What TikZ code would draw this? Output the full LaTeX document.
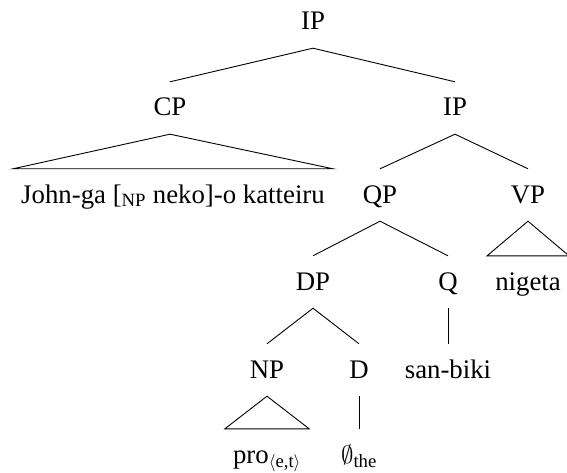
\documentclass[tikz,border=0pt]{standalone}
\usepackage{fontspec}
\setmainfont{Liberation Serif}
\begin{document}
\begin{tikzpicture}[x=1pt,y=-1pt,
  lbl/.style={font=\fontsize{26.8}{31}\selectfont, text height=20pt, text depth=4pt, inner ysep=2pt, inner xsep=8pt, minimum height=52pt},
  edge/.style={line width=0.9pt, line join=miter}]
\useasboundingbox (0,0) rectangle (567,473);
\node[lbl] (ip1) at (313,22) {IP};
\node[lbl] (cp) at (170,108) {CP};
\node[lbl] (ip2) at (455,108) {IP};
\node[lbl] (cpt) at (173,195) {John-ga [\textsubscript{NP} neko]-o katteiru};
\node[lbl] (qp) at (380,195) {QP};
\node[lbl] (vp) at (528,195) {VP};
\node[lbl] (dp) at (313,282) {DP};
\node[lbl] (q) at (448,282) {Q};
\node[lbl] (nig) at (528,282) {nigeta};
\node[lbl] (np) at (267,370) {NP};
\node[lbl] (d) at (359,370) {D};
\node[lbl] (sb) at (448,370) {san-biki};
\node[lbl] (pro) at (267,455) {pro\textsubscript{$\langle$e,t$\rangle$}};
\node[lbl] (emp) at (359,455) {$\emptyset$\textsubscript{the}};
\draw[edge] (cp.north) -- (ip1.south) -- (ip2.north);
\draw[edge] (cp.south) -- (cpt.north west) -- (cpt.north east) -- cycle;
\draw[edge] (qp.north) -- (ip2.south) -- (vp.north);
\draw[edge] (vp.south) -- (nig.north west) -- (nig.north east) -- cycle;
\draw[edge] (dp.north) -- (qp.south) -- (q.north);
\draw[edge] (q.south) -- (sb.north);
\draw[edge] (np.north) -- (dp.south) -- (d.north);
\draw[edge] (np.south) -- (pro.north west) -- (pro.north east) -- cycle;
\draw[edge] (d.south) -- (emp.north);
\end{tikzpicture}
\end{document}
